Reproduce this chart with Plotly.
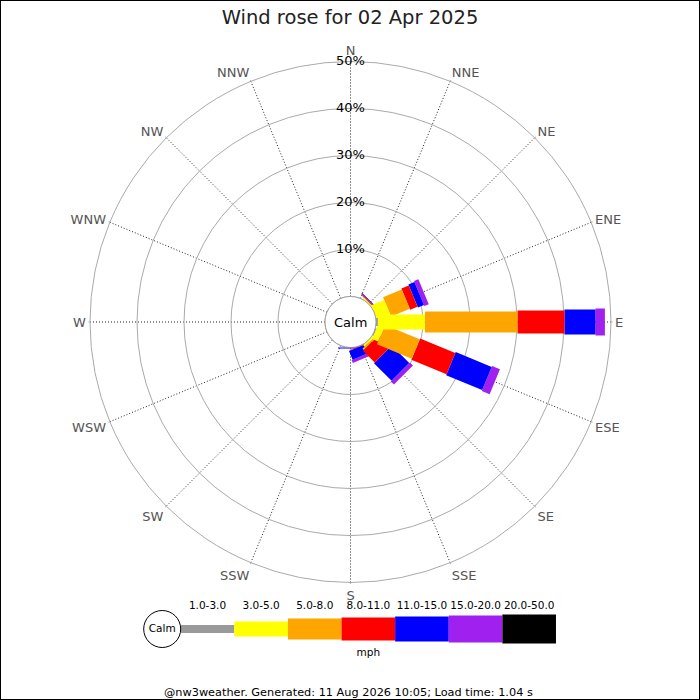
import math
import plotly.graph_objects as go

# ---------------- data ----------------
DIRECTIONS = ["N", "NNE", "NE", "ENE", "E", "ESE", "SE", "SSE",
              "S", "SSW", "SW", "WSW", "W", "WNW", "NW", "NNW"]
DIR_ANGLES = [0, 22.5, 45, 67.5, 90, 112.5, 135, 157.5,
              180, 202.5, 225, 247.5, 270, 292.5, 315, 337.5]
SPEED_CLASSES = ["1.0-3.0", "3.0-5.0", "5.0-8.0", "8.0-11.0",
                 "11.0-15.0", "15.0-20.0", "20.0-50.0"]
# percentage of time per direction for each speed class (mph)
PCT_1_3   = [0, 0, 0.0, 0.0, 0.4, 0.2, 0.0, 0.0,  0.0, 0, 0, 0, 0, 0, 0, 0]
PCT_3_5   = [0, 0, 0.2, 3.0, 10.0, 1.4, 0.4, 0.0, 0.0, 0, 0, 0, 0, 0, 0, 0]
PCT_5_8   = [0, 0, 0.1, 4.3, 19.7, 8.0, 0.4, 0.0, 0.0, 0, 0, 0, 0, 0, 0, 0]
PCT_8_11  = [0, 0, 0.2, 1.7, 10.0, 8.1, 3.5, 0.15, 0.0, 0, 0, 0, 0, 0, 0, 0]
PCT_11_15 = [0, 0, 0.2, 1.4, 6.6, 8.3, 5.3, 2.0,  0.2, 0, 0, 0, 0, 0, 0, 0]
PCT_15_20 = [0, 0, 0.0, 1.0, 2.0, 1.8, 0.9, 0.65, 0.0, 0, 0, 0, 0, 0, 0, 0]
PCT_20_50 = [0, 0, 0.0, 0.0, 0.0, 0.0, 0.0, 0.0,  0.0, 0, 0, 0, 0, 0, 0, 0]
RADIAL_TICKS = [10, 20, 30, 40, 50]
RADIAL_TICK_LABELS = ["10%", "20%", "30%", "40%", "50%"]
TITLE = "Wind rose for 02 Apr 2025"
CALM_LABEL = "Calm"
UNITS_LABEL = "mph"
FOOTER = "@nw3weather. Generated: 11 Aug 2026 10:05; Load time: 1.04 s"

SERIES = [PCT_1_3, PCT_3_5, PCT_5_8, PCT_8_11, PCT_11_15, PCT_15_20, PCT_20_50]

# ---------------- style ----------------
COLORS = ["#999999", "#ffff00", "#ffa500", "#ff0000", "#0000ff", "#a020f0", "#000000"]
BAR_PX = [8, 15, 21, 23, 25, 27, 29]   # bar thickness per class, pixels
FONT = "DejaVu Sans"
W = H = 700
CX, CY = 350.5, 322.0        # rose centre (px)
R_HOLE, R_OUT = 25.5, 260.5  # calm radius / outer ring radius (px)
RMAX = 50
PX_PER_PCT = (R_OUT - R_HOLE) / RMAX
R0 = R_HOLE / PX_PER_PCT     # hole radius in data units

# legend strip geometry (px from top of figure)
LEG_CY = 629.0
LEG_TOP, LEG_BOT = 595.0, 665.0

fig = go.Figure()


def rect_polar(theta, a0, a1, half):
    pts = [(R0 + a0, -half), (R0 + a1, -half), (R0 + a1, half),
           (R0 + a0, half), (R0 + a0, -half)]
    rr = [math.hypot(p, q) - R0 for p, q in pts]
    tt = [theta + math.degrees(math.atan2(q, p)) for p, q in pts]
    return rr, tt


# draw outer classes first so inner (narrower) classes sit on top
for ci in reversed(range(len(SPEED_CLASSES))):
    half = BAR_PX[ci] / PX_PER_PCT / 2
    for di, ang in enumerate(DIR_ANGLES):
        val = SERIES[ci][di]
        if val <= 0:
            continue
        start = sum(SERIES[k][di] for k in range(ci))
        rr, tt = rect_polar(ang, start, start + val, half)
        fig.add_trace(go.Scatterpolar(
            r=rr, theta=tt, mode="lines", fill="toself",
            fillcolor=COLORS[ci], line=dict(width=0, color=COLORS[ci]),
            hoverinfo="skip", showlegend=False))

# calm circle outline
fig.add_trace(go.Scatterpolar(
    r=[0] * 361, theta=list(range(361)), mode="lines",
    line=dict(color="#999999", width=1), cliponaxis=False,
    hoverinfo="skip", showlegend=False))

# percentage labels along the north axis
fig.add_trace(go.Scatterpolar(
    r=RADIAL_TICKS, theta=[0] * len(RADIAL_TICKS), mode="text",
    text=RADIAL_TICK_LABELS, textposition="middle center",
    textfont=dict(family=FONT, size=13, color="#000000"),
    cliponaxis=False, hoverinfo="skip", showlegend=False))

# ---------------- legend (cartesian, 1 unit = 1 px vertically) ----------------
idx = list(range(len(SPEED_CLASSES)))
fig.add_trace(go.Bar(
    x=idx, y=BAR_PX, base=[-b / 2 for b in BAR_PX], width=1,
    marker=dict(color=COLORS, line=dict(width=0)),
    xaxis="x", yaxis="y", hoverinfo="skip", showlegend=False))
fig.add_trace(go.Scatter(
    x=idx, y=[22.3] * len(idx), mode="text", text=SPEED_CLASSES,
    textposition="middle center",
    textfont=dict(family=FONT, size=10.5, color="#000000"),
    cliponaxis=False, xaxis="x", yaxis="y", hoverinfo="skip", showlegend=False))
fig.add_trace(go.Scatter(
    x=[3], y=[-24.3], mode="text", text=[UNITS_LABEL],
    textposition="middle center",
    textfont=dict(family=FONT, size=10.5, color="#000000"),
    cliponaxis=False, xaxis="x", yaxis="y", hoverinfo="skip", showlegend=False))
fig.add_trace(go.Scatter(
    x=[-0.845], y=[0], mode="markers+text", text=[CALM_LABEL],
    textposition="middle center",
    marker=dict(size=37, color="white", line=dict(color="black", width=1)),
    textfont=dict(family=FONT, size=10.5, color="#000000"),
    cliponaxis=False, xaxis="x", yaxis="y", hoverinfo="skip", showlegend=False))

fig.update_layout(
    width=W, height=H,
    margin=dict(l=0, r=0, t=0, b=0),
    paper_bgcolor="white", plot_bgcolor="white",
    font=dict(family=FONT),
    title=dict(text=TITLE, x=0.5, xanchor="center", y=1 - 17 / H, yanchor="middle",
               font=dict(family=FONT, size=19.5, color="#222222")),
    polar=dict(
        domain=dict(x=[(CX - R_OUT) / W, (CX + R_OUT) / W],
                    y=[1 - (CY + R_OUT) / H, 1 - (CY - R_OUT) / H]),
        hole=R_HOLE / R_OUT,
        bgcolor="white",
        radialaxis=dict(range=[0, RMAX], tickvals=RADIAL_TICKS, showticklabels=False,
                        ticks="", showline=False, gridcolor="#aaaaaa", gridwidth=1,
                        layer="below traces"),
        angularaxis=dict(rotation=90, direction="clockwise", tickmode="array",
                         tickvals=DIR_ANGLES, ticktext=DIRECTIONS,
                         tickfont=dict(family=FONT, size=13, color="#555555"),
                         showline=True, linecolor="#aaaaaa", linewidth=1,
                         gridcolor="#222222", griddash="1px,2px", gridwidth=1,
                         ticks="outside", ticklen=1, tickcolor="#aaaaaa",
                         layer="below traces"),
    ),
    xaxis=dict(domain=[140 / W, 560 / W], range=[-1.259, 6.575], visible=False,
               fixedrange=True),
    yaxis=dict(domain=[1 - LEG_BOT / H, 1 - LEG_TOP / H],
               range=[-(LEG_BOT - LEG_CY), LEG_CY - LEG_TOP], visible=False,
               fixedrange=True),
    annotations=[
        dict(text=CALM_LABEL, x=CX / W, y=1 - CY / H, xref="paper", yref="paper",
             xanchor="center", yanchor="middle",
             showarrow=False, font=dict(family=FONT, size=13, color="#000000")),
        dict(text=FOOTER, x=0.4976, y=1 - 692 / H, xref="paper", yref="paper",
             xanchor="center", yanchor="middle",
             showarrow=False, font=dict(family=FONT, size=11.3, color="#000000")),
    ],
    shapes=[dict(type="rect", xref="paper", yref="paper", x0=0, y0=0, x1=1, y1=1,
                 line=dict(color="black", width=2))],
    showlegend=False,
)

fig.write_html("out.html",
               config={"displayModeBar": False, "staticPlot": True},
               post_script="document.body.style.margin='0';"
                           "document.body.style.overflow='hidden';")
